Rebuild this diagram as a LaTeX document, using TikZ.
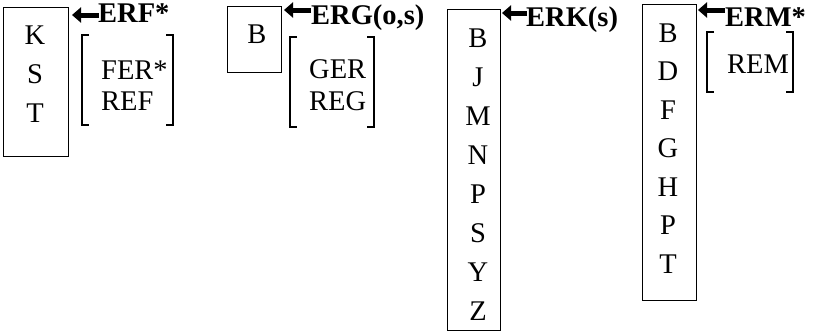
\documentclass[tikz,border=0pt]{standalone}
\usepackage{fontspec}
\setmainfont{Liberation Serif}
\usetikzlibrary{arrows.meta}
\tikzset{
  letterbox/.style={draw, line width=1pt, inner sep=0pt},
  letter/.style={anchor=base, inner sep=0pt, font=\fontsize{28.5}{28.5}\selectfont},
  word/.style={anchor=base west, inner sep=0pt, font=\fontsize{28.5}{28.5}\selectfont},
  tag/.style={anchor=base west, inner sep=0pt, font=\fontsize{28.5}{28.5}\selectfont\bfseries},
  bigarrow/.style={line width=5pt, -{Triangle[length=9pt,width=15pt]}},
  brk/.style={line width=1.3pt}
}
\begin{document}
\begin{tikzpicture}[x=1pt,y=-1pt]
\useasboundingbox (0,0) rectangle (817,332);
% boxes
\node[letterbox, minimum width=65pt, minimum height=149pt] (box1) at (35.5,81.5) {};
\node[letterbox, minimum width=54pt, minimum height=66pt] (box2) at (254,39) {};
\node[letterbox, minimum width=53pt, minimum height=321pt] (box3) at (473.5,169.5) {};
\node[letterbox, minimum width=54pt, minimum height=296pt] (box4) at (669,152) {};
% letters
\foreach \t/\y [count=\i] in {K/45,S/83.5,T/122}
  \node[letter] (l1\i) at (35,\y) {\t};
\node[letter] (l21) at (257,43) {B};
\foreach \t/\y [count=\i] in {B/47,J/86,M/125,N/164,P/203,S/242,Y/281,Z/320}
  \node[letter] (l3\i) at (478,\y) {\t};
\foreach \t/\y [count=\i] in {B/42,D/80.5,F/119,G/157.5,H/196,P/234.5,T/273}
  \node[letter] (l4\i) at (668,\y) {\t};
% tags
\node[tag] (tag1) at (98,22) {ERF*};
\node[tag] (tag2) at (311,24) {ERG(o,s)};
\node[tag] (tag3) at (526,27) {ERK(s)};
\node[tag] (tag4) at (725,27) {ERM*};
% arrows
\coordinate (s1) at (99,15); \coordinate (e1) at (72,15);
\coordinate (s2) at (311,10); \coordinate (e2) at (284,10);
\coordinate (s3) at (527,13); \coordinate (e3) at (502,13);
\coordinate (s4) at (725,10); \coordinate (e4) at (698,10);
\foreach \i in {1,2,3,4} \draw[bigarrow] (s\i) -- (e\i);
% brackets
\draw[brk] (89,35) -- (82,35) -- (82,125) -- (89,125);
\draw[brk] (166,35) -- (173,35) -- (173,125) -- (166,125);
\draw[brk] (297,37) -- (290,37) -- (290,127) -- (297,127);
\draw[brk] (367,37) -- (374,37) -- (374,127) -- (367,127);
\draw[brk] (714,32) -- (707,32) -- (707,92) -- (714,92);
\draw[brk] (786,32) -- (793,32) -- (793,92) -- (786,92);
% bracket words
\node[word] (w1) at (101,79) {FER*};
\node[word] (w2) at (101,110) {REF};
\node[word] (w3) at (309,78) {GER};
\node[word] (w4) at (309,110) {REG};
\node[word] (w5) at (727,73) {REM};
\end{tikzpicture}
\end{document}
